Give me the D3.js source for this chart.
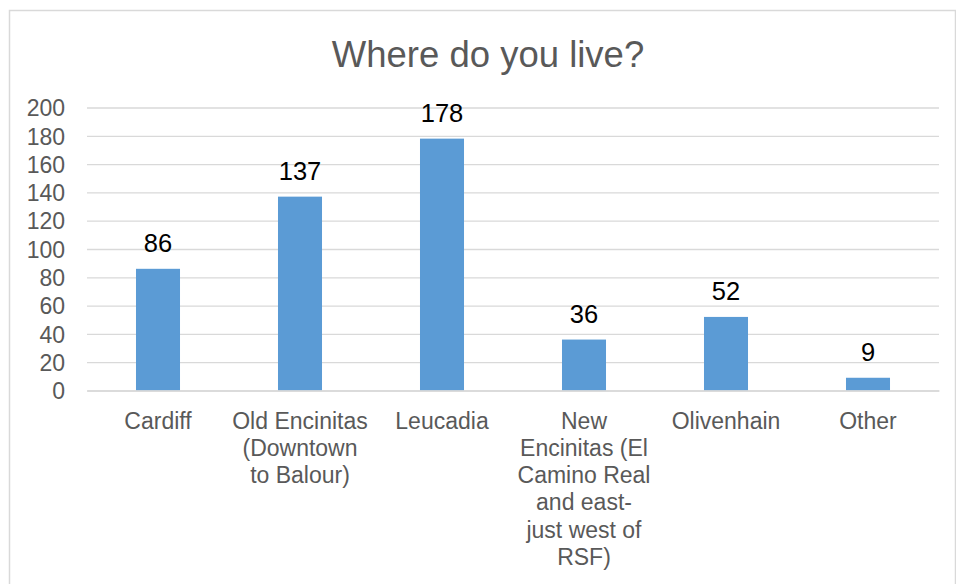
<!DOCTYPE html>
<html>
<head>
<meta charset="utf-8">
<script src="https://cdn.jsdelivr.net/npm/d3@7"></script>
<style>
  html, body { margin: 0; padding: 0; background: #fff; }
  svg { display: block; font-family: "Liberation Sans", Arial, sans-serif; }
</style>
</head>
<body>
<svg id="chart" width="956" height="584"></svg>
<script>
const title = "Where do you live?";
const categories = ["Cardiff", "Old Encinitas (Downtown to Balour)", "Leucadia",
  "New Encinitas (El Camino Real and east- just west of RSF)", "Olivenhain", "Other"];
const categoryLines = [
  ["Cardiff"],
  ["Old Encinitas", "(Downtown", "to Balour)"],
  ["Leucadia"],
  ["New", "Encinitas (El", "Camino Real", "and east-", "just west of", "RSF)"],
  ["Olivenhain"],
  ["Other"]
];
const values = [86, 137, 178, 36, 52, 9];
const yTicks = [0, 20, 40, 60, 80, 100, 120, 140, 160, 180, 200];

const svg = d3.select("#chart");
const W = 956, H = 584;

// chart area border
svg.append("rect")
  .attr("x", 9.5).attr("y", 10.5)
  .attr("width", 946).attr("height", 620)
  .attr("fill", "#fff").attr("stroke", "#d9d9d9").attr("stroke-width", 1.5);

const x = d3.scaleBand()
  .domain(categories)
  .range([87, 939])
  .paddingInner(0.69)
  .paddingOuter(0.345);

const y = d3.scaleLinear().domain([0, 200]).range([390.5, 107.5]);

// title
svg.append("text")
  .attr("x", 488).attr("y", 67)
  .attr("text-anchor", "middle")
  .attr("font-size", 36.5)
  .attr("fill", "#595959")
  .text(title);

// gridlines
const yAxis = d3.axisLeft(y).tickValues(yTicks).tickSize(-(939 - 87)).tickFormat(d3.format("d"));
const gy = svg.append("g").attr("transform", "translate(87,0)").call(yAxis);
gy.select(".domain").remove();
gy.selectAll(".tick line").attr("stroke", "#d9d9d9").attr("stroke-width", 1.3);
gy.selectAll(".tick text")
  .attr("x", -22)
  .attr("dy", "0.36em")
  .attr("font-size", 23)
  .attr("fill", "#595959")
  .attr("font-family", "Liberation Sans, Arial, sans-serif");

// bars
svg.append("g").selectAll("rect")
  .data(values)
  .join("rect")
  .attr("x", (d, i) => x(categories[i]))
  .attr("y", d => y(d))
  .attr("width", x.bandwidth())
  .attr("height", d => y(0) - y(d))
  .attr("fill", "#5b9bd5");

// x axis line
const xAxis = d3.axisBottom(x).tickSize(0).tickFormat("");
const gx = svg.append("g").attr("transform", `translate(0,${y(0)})`).call(xAxis);
gx.select(".domain").attr("stroke", "#d9d9d9").attr("stroke-width", 1.5);
gx.selectAll(".tick text").remove();

// category labels
const catG = svg.append("g");
categories.forEach((c, i) => {
  const t = catG.append("text")
    .attr("text-anchor", "middle")
    .attr("font-size", 23)
    .attr("fill", "#595959");
  categoryLines[i].forEach((line, j) => {
    t.append("tspan")
      .attr("x", x(c) + x.bandwidth() / 2)
      .attr("y", 428.5 + j * 27.3)
      .text(line);
  });
});

// data labels
svg.append("g").selectAll("text")
  .data(values)
  .join("text")
  .attr("x", (d, i) => x(categories[i]) + x.bandwidth() / 2)
  .attr("y", d => y(d) - 17)
  .attr("text-anchor", "middle")
  .attr("font-size", 25.5)
  .attr("fill", "#000")
  .text(d => d);
</script>
</body>
</html>
